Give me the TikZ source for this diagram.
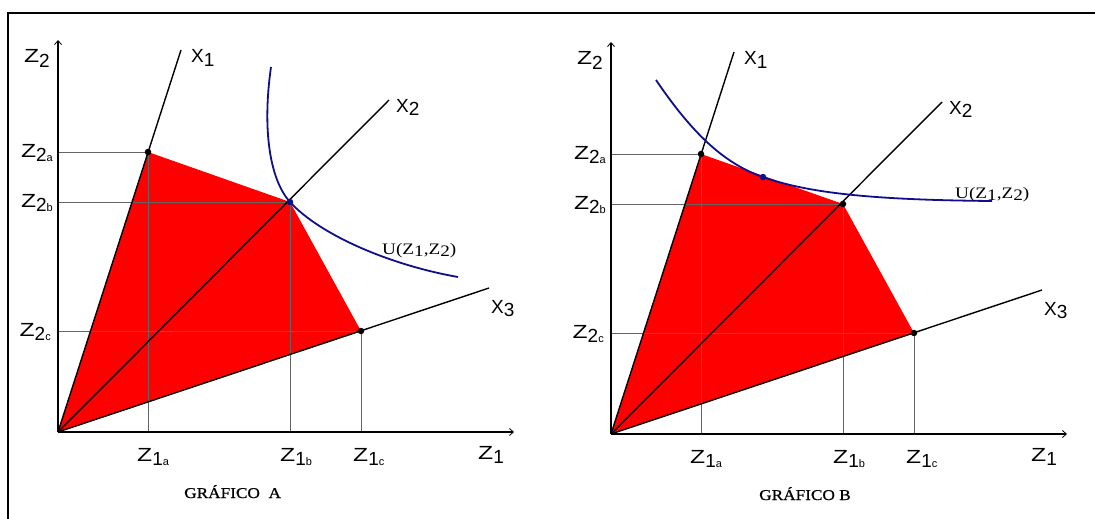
\documentclass[tikz,border=0pt]{standalone}
\usepackage{fontspec}
\setmainfont{Liberation Serif}
\newfontfamily\labsans{Liberation Sans}
\newfontfamily\labsanswide{Liberation Sans}[FakeStretch=1.3]
\newfontfamily\labserifwide{Liberation Serif}[FakeStretch=1.2]
\newfontfamily\labserifbold{Liberation Serif}[FakeStretch=1.15,FakeBold=0.6]
\usetikzlibrary{arrows.meta}
\definecolor{fillred}{RGB}{255,0,0}
\definecolor{ucurve}{RGB}{15,15,140}
\definecolor{guidegray}{RGB}{100,100,100}

\newcommand{\Zlab}[2]{{\fontsize{19}{19}\selectfont\labsanswide Z\labsans\raisebox{-4.5pt}{#1\fontsize{11}{11}\selectfont #2}}}
\newcommand{\Xlab}[1]{{\fontsize{19}{19}\selectfont\labsans X\raisebox{-3.5pt}{#1}}}
\newcommand{\Ulab}{{\labserifwide\fontsize{16}{16}\selectfont U(Z\raisebox{-2pt}{1},Z\raisebox{-2pt}{2})}}
\newcommand{\Glab}[1]{{\labserifbold\fontsize{15}{15}\selectfont #1}}

\tikzset{
  axisline/.style={line width=1.8pt, -{Straight Barb[length=4pt,width=7pt,line width=0.8pt]}},
  rayline/.style={line width=1.4pt},
  guideline/.style={draw=guidegray, line width=0.9pt},
  region/.style={fill=fillred},
  ucurveline/.style={draw=ucurve, line width=1.8pt},
  blackdot/.style={circle, fill=black, inner sep=0pt, minimum size=6.5pt},
  bluedot/.style={circle, fill=ucurve, inner sep=0pt, minimum size=6.5pt},
  lab/.style={inner sep=0pt},
}

% #1 prefix
\newcommand{\onegraph}[1]{%
  \coordinate (#1o) at (58,432);
  \coordinate (#1a) at (148,152);
  \coordinate (#1b) at (290,202);
  \coordinate (#1c) at (361,331);
  \coordinate (#1x1) at (181,50);
  \coordinate (#1x2) at (389,100);
  \coordinate (#1x3) at (489,288);
  \coordinate (#1z2) at (58,40);
  \coordinate (#1z1) at (514,432);
  \fill[region] (#1o) -- (#1a) -- (#1b) -- (#1c) -- cycle;
  \draw[guideline] (#1o |- #1a) -- (#1a) -- (#1a |- #1o);
  \draw[guideline] (#1o |- #1b) -- (#1b) -- (#1b |- #1o);
  \draw[guideline] (#1o |- #1c) -- (#1c) -- (#1c |- #1o);
  \draw[rayline] (#1o) -- (#1x1);
  \draw[rayline] (#1o) -- (#1x2);
  \draw[rayline] (#1o) -- (#1x3);
  \draw[axisline] (#1o) -- (#1z2);
  \draw[axisline] (#1o) -- (#1z1);
  \node[lab, anchor=base east] (#1Z2) at (50,63) {\Zlab{2}{}};
  \node[lab, anchor=base east] (#1Z2a) at (53,157) {\Zlab{2}{a}};
  \node[lab, anchor=base east] (#1Z2b) at (53,207) {\Zlab{2}{b}};
  \node[lab, anchor=base east] (#1Z2c) at (51,336) {\Zlab{2}{c}};
  \node[lab, anchor=base west] (#1Z1a) at (137,461) {\Zlab{1}{a}};
  \node[lab, anchor=base west] (#1Z1b) at (280,461) {\Zlab{1}{b}};
  \node[lab, anchor=base west] (#1Z1c) at (353,461) {\Zlab{1}{c}};
  \node[lab, anchor=base west] (#1Z1) at (478,459) {\Zlab{1}{}};
  \node[lab, anchor=base west] (#1X1) at (191,63) {\Xlab{1}};
  \node[lab, anchor=base west] (#1X2) at (396,112) {\Xlab{2}};
  \node[lab, anchor=base west] (#1X3) at (491,313) {\Xlab{3}};
}

\begin{document}
\begin{tikzpicture}[x=1pt, y=-1pt]
  \useasboundingbox (0,0) rectangle (1095,519);
  \fill[white] (0,0) rectangle (1095,519);
  \draw[line width=2.6pt] (1096,13) -- (8,13) -- (8,520);

  % ---- Graph A ----
  \onegraph{A}
  \draw[ucurveline] (271,67) .. controls (262,130) and (270,180) .. (290,202)
                         .. controls (320,235) and (390,265) .. (458,277);
  \node[bluedot] (Adot) at (Ab) {};
  \node[blackdot] (Adota) at (Aa) {};
  \node[blackdot] (Adotc) at (Ac) {};
  \node[lab, anchor=base west] (AU) at (382,254) {\Ulab};
  \node[lab, anchor=base west] (AG) at (184,498) {\Glab{GRÁFICO\ \ A}};

  % ---- Graph B ----
  \begin{scope}[shift={(553,2)}]
    \onegraph{B}
  \end{scope}
  \draw[ucurveline] (656,80) .. controls (690,130) and (722,163) .. (763,177)
                         .. controls (810,194) and (880,200) .. (992,201);
  \node[blackdot] (Bdota) at (Ba) {};
  \node[blackdot] (Bdotb) at (Bb) {};
  \node[blackdot] (Bdotc) at (Bc) {};
  \node[bluedot] (Bdott) at (763,177) {};
  \node[lab, anchor=base west] (BU) at (955,198) {\Ulab};
  \node[lab, anchor=base west] (BG) at (759,500) {\Glab{GRÁFICO B}};
\end{tikzpicture}
\end{document}
